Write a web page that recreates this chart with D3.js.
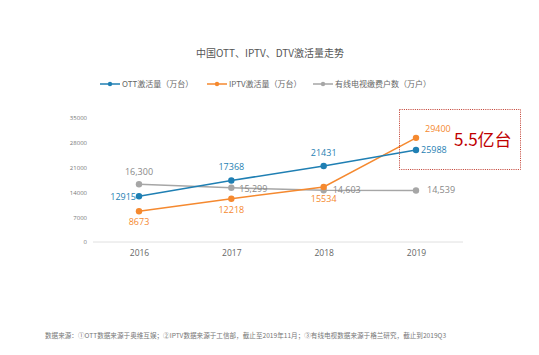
<!DOCTYPE html>
<html><head><meta charset="utf-8">
<script src="https://cdn.jsdelivr.net/npm/d3@7"></script>
<style>body{margin:0;background:#fff;}svg{display:block;font-family:"Noto Sans CJK SC","Open Sans",sans-serif;}</style>
</head><body>
<svg id="c" width="539" height="355"></svg>
<script>
const years = ["2016","2017","2018","2019"];
const ott = [12915, 17368, 21431, 25988];
const iptv = [8673, 12218, 15534, 29400];
const dtv = [16300, 15299, 14603, 14539];
const yTicks = [0, 7000, 14000, 21000, 28000, 35000];
const seriesNames = ["OTT激活量（万台）", "IPTV激活量（万台）", "有线电视缴费户数（万户）"];
const colors = ["#1f7fb3", "#f5892f", "#a6a6a6"];

const svg = d3.select("#c");
const x = d3.scalePoint().domain(years).range([139, 416]);
const y = d3.scaleLinear().domain([0, 35000]).range([242, 118]);

svg.append("text").attr("x", 270).attr("y", 57).attr("text-anchor", "middle")
  .attr("font-size", 10).attr("fill", "#555").text("中国OTT、IPTV、DTV激活量走势");

// axis
svg.append("line").attr("x1", 93).attr("x2", 463).attr("y1", y(0)).attr("y2", y(0))
  .attr("stroke", "#e0e0e0").attr("stroke-width", 1);
const yAxis = svg.append("g").attr("transform", "translate(87,0)")
  .call(d3.axisLeft(y).tickValues(yTicks).tickFormat(d3.format("d")).tickSize(0).tickPadding(0));
yAxis.select(".domain").remove();
yAxis.selectAll("text").attr("font-size", 6).attr("fill", "#777").attr("font-family", "Open Sans, sans-serif");

const xAxis = svg.append("g").attr("transform", "translate(0,248)")
  .call(d3.axisBottom(x).tickSize(0).tickPadding(0));
xAxis.select(".domain").remove();
xAxis.selectAll("text").attr("font-size", 8.5).attr("fill", "#666").attr("dy", "0.9em").attr("font-family", "Open Sans, sans-serif");

// legend
const legX = [100, 207, 313];
seriesNames.forEach((n, i) => {
  const g = svg.append("g");
  g.append("line").attr("x1", legX[i]).attr("x2", legX[i] + 20).attr("y1", 84).attr("y2", 84)
    .attr("stroke", colors[i]).attr("stroke-width", 1.5);
  g.append("circle").attr("cx", legX[i] + 10).attr("cy", 84).attr("r", 2.2).attr("fill", colors[i]);
  g.append("text").attr("x", legX[i] + 22).attr("y", 87).attr("font-size", 8).attr("fill", "#666").text(n);
});

const line = d3.line().x((d, i) => x(years[i])).y(d => y(d));
const all = [ott, iptv, dtv];
[2, 1, 0].forEach(k => {
  svg.append("path").attr("d", line(all[k])).attr("fill", "none")
    .attr("stroke", colors[k]).attr("stroke-width", 1.5);
  svg.selectAll(null).data(all[k]).enter().append("circle")
    .attr("cx", (d, i) => x(years[i])).attr("cy", d => y(d)).attr("r", 3.2).attr("fill", colors[k]);
});

// data labels
const fmt = d3.format(",");
const lab = (v, i, dx, dy, anchor, color, comma) => svg.append("text")
  .attr("x", x(years[i]) + dx).attr("y", y(v) + dy).attr("text-anchor", anchor)
  .attr("font-size", 9).attr("fill", color).attr("font-family", "Open Sans, sans-serif")
  .text(comma ? fmt(v) : v);
const ottPos = [[-3, 4, "end"], [0, -10, "middle"], [0, -10, "middle"], [5, 3, "start"]];
const iptvPos = [[0, 14, "middle"], [0, 14, "middle"], [0, 15, "middle"], [9, -6, "start"]];
const dtvPos = [[0, -9, "middle"], [8, 4, "start"], [9, 3, "start"], [11, 3, "start"]];
ott.forEach((v, i) => lab(v, i, ottPos[i][0], ottPos[i][1], ottPos[i][2], colors[0], false));
iptv.forEach((v, i) => lab(v, i, iptvPos[i][0], iptvPos[i][1], iptvPos[i][2], colors[1], false));
dtv.forEach((v, i) => lab(v, i, dtvPos[i][0], dtvPos[i][1], dtvPos[i][2], "#888", true));

// annotation box
svg.append("rect").attr("x", 399.5).attr("y", 109.5).attr("width", 121).attr("height", 60)
  .attr("fill", "none").attr("stroke", "#c0392b").attr("stroke-width", 1).attr("stroke-dasharray", "1,1.2");
svg.append("text").attr("x", 454).attr("y", 146).attr("font-size", 17).attr("fill", "#c00000").text("5.5亿台");

// footer
svg.append("text").attr("x", 45).attr("y", 338).attr("font-size", 6.6).attr("fill", "#777")
  .text("数据来源：①OTT数据来源于奥维互娱；②IPTV数据来源于工信部，截止至2019年11月；③有线电视数据来源于格兰研究，截止到2019Q3");
</script>
</body></html>
